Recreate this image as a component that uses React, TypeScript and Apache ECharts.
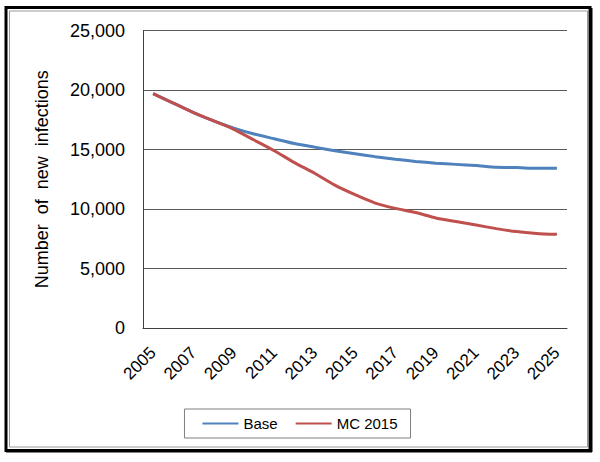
import React, { useEffect, useRef } from "react";
import * as echarts from "echarts";

const years = [
  "2005", "2006", "2007", "2008", "2009", "2010", "2011", "2012", "2013", "2014", "2015",
  "2016", "2017", "2018", "2019", "2020", "2021", "2022", "2023", "2024", "2025",
];
const baseValues = [
  19700, 18900, 18100, 17400, 16800, 16300, 15900, 15500, 15200, 14900, 14650,
  14400, 14180, 14000, 13850, 13750, 13650, 13500, 13480, 13420, 13420,
];
const mc2015Values = [
  19700, 18900, 18100, 17400, 16700, 15800, 14900, 13900, 13000, 12000, 11200,
  10500, 10050, 9700, 9250, 8950, 8650, 8350, 8100, 7950, 7870,
];
const yTicks = [0, 5000, 10000, 15000, 20000, 25000];

export default function App() {
  const ref = useRef<HTMLDivElement>(null);
  useEffect(() => {
    document.body.style.margin = "0";
    const chart = echarts.init(ref.current!, null, { renderer: "svg" });
    const font = "Arial, 'Liberation Sans', sans-serif";
    chart.setOption({
      animation: false,
      backgroundColor: "#fff",
      textStyle: { fontFamily: font },
      grid: { left: 143, right: 33, top: 30.5, bottom: 134, containLabel: false },
      legend: {
        left: "center",
        top: 409,
        data: ["Base", "MC 2015"],
        icon: "rect",
        itemWidth: 36,
        itemHeight: 2,
        itemGap: 18,
        borderColor: "#7f7f7f",
        borderWidth: 1,
        padding: [7, 13, 7, 18],
        textStyle: { fontSize: 15, color: "#000", fontFamily: font },
      },
      xAxis: {
        type: "category",
        data: years,
        boundaryGap: true,
        axisLine: { lineStyle: { color: "#404040", width: 1 } },
        axisTick: { show: false },
        axisLabel: {
          interval: 1,
          rotate: 45,
          fontSize: 17,
          color: "#000",
          margin: 22,
          fontFamily: font,
        },
      },
      yAxis: {
        type: "value",
        min: yTicks[0],
        max: yTicks[yTicks.length - 1],
        interval: 5000,
        name: "Number  of  new  infections",
        nameLocation: "middle",
        nameGap: 92,
        nameTextStyle: { fontSize: 18, color: "#000", fontFamily: font },
        axisLine: { show: true, lineStyle: { color: "#404040", width: 1 } },
        axisTick: { show: false },
        splitLine: { lineStyle: { color: "#5a5a5a", width: 1 } },
        axisLabel: {
          fontSize: 18,
          color: "#000",
          margin: 18,
          fontFamily: font,
          formatter: (v: number) => v.toLocaleString("en-US"),
        },
      },
      series: [
        {
          name: "Base",
          type: "line",
          data: baseValues,
          symbol: "none",
          smooth: 0.2,
          lineStyle: { color: "#4f81bd", width: 3 },
          itemStyle: { color: "#4f81bd" },
          z: 2,
        },
        {
          name: "MC 2015",
          type: "line",
          data: mc2015Values,
          symbol: "none",
          smooth: 0.2,
          lineStyle: { color: "#c0504d", width: 3 },
          itemStyle: { color: "#c0504d" },
          z: 3,
        },
      ],
      graphic: [
        {
          type: "rect",
          shape: { x: 6, y: 7.5, width: 584, height: 443 },
          style: { fill: "none", stroke: "#000", lineWidth: 3 },
          silent: true,
        },
        {
          type: "line",
          shape: { x1: 591, y1: 8, x2: 591, y2: 452 },
          style: { stroke: "#000", lineWidth: 3 },
          silent: true,
        },
        {
          type: "line",
          shape: { x1: 6, y1: 451, x2: 592, y2: 451 },
          style: { stroke: "#000", lineWidth: 3 },
          silent: true,
        },
        {
          type: "rect",
          shape: { x: 9.5, y: 11, width: 578, height: 436 },
          style: { fill: "none", stroke: "#9a9a9a", lineWidth: 1 },
          silent: true,
        },
      ],
    });
    return () => chart.dispose();
  }, []);
  return <div ref={ref} style={{ width: 600, height: 462 }} />;
}
